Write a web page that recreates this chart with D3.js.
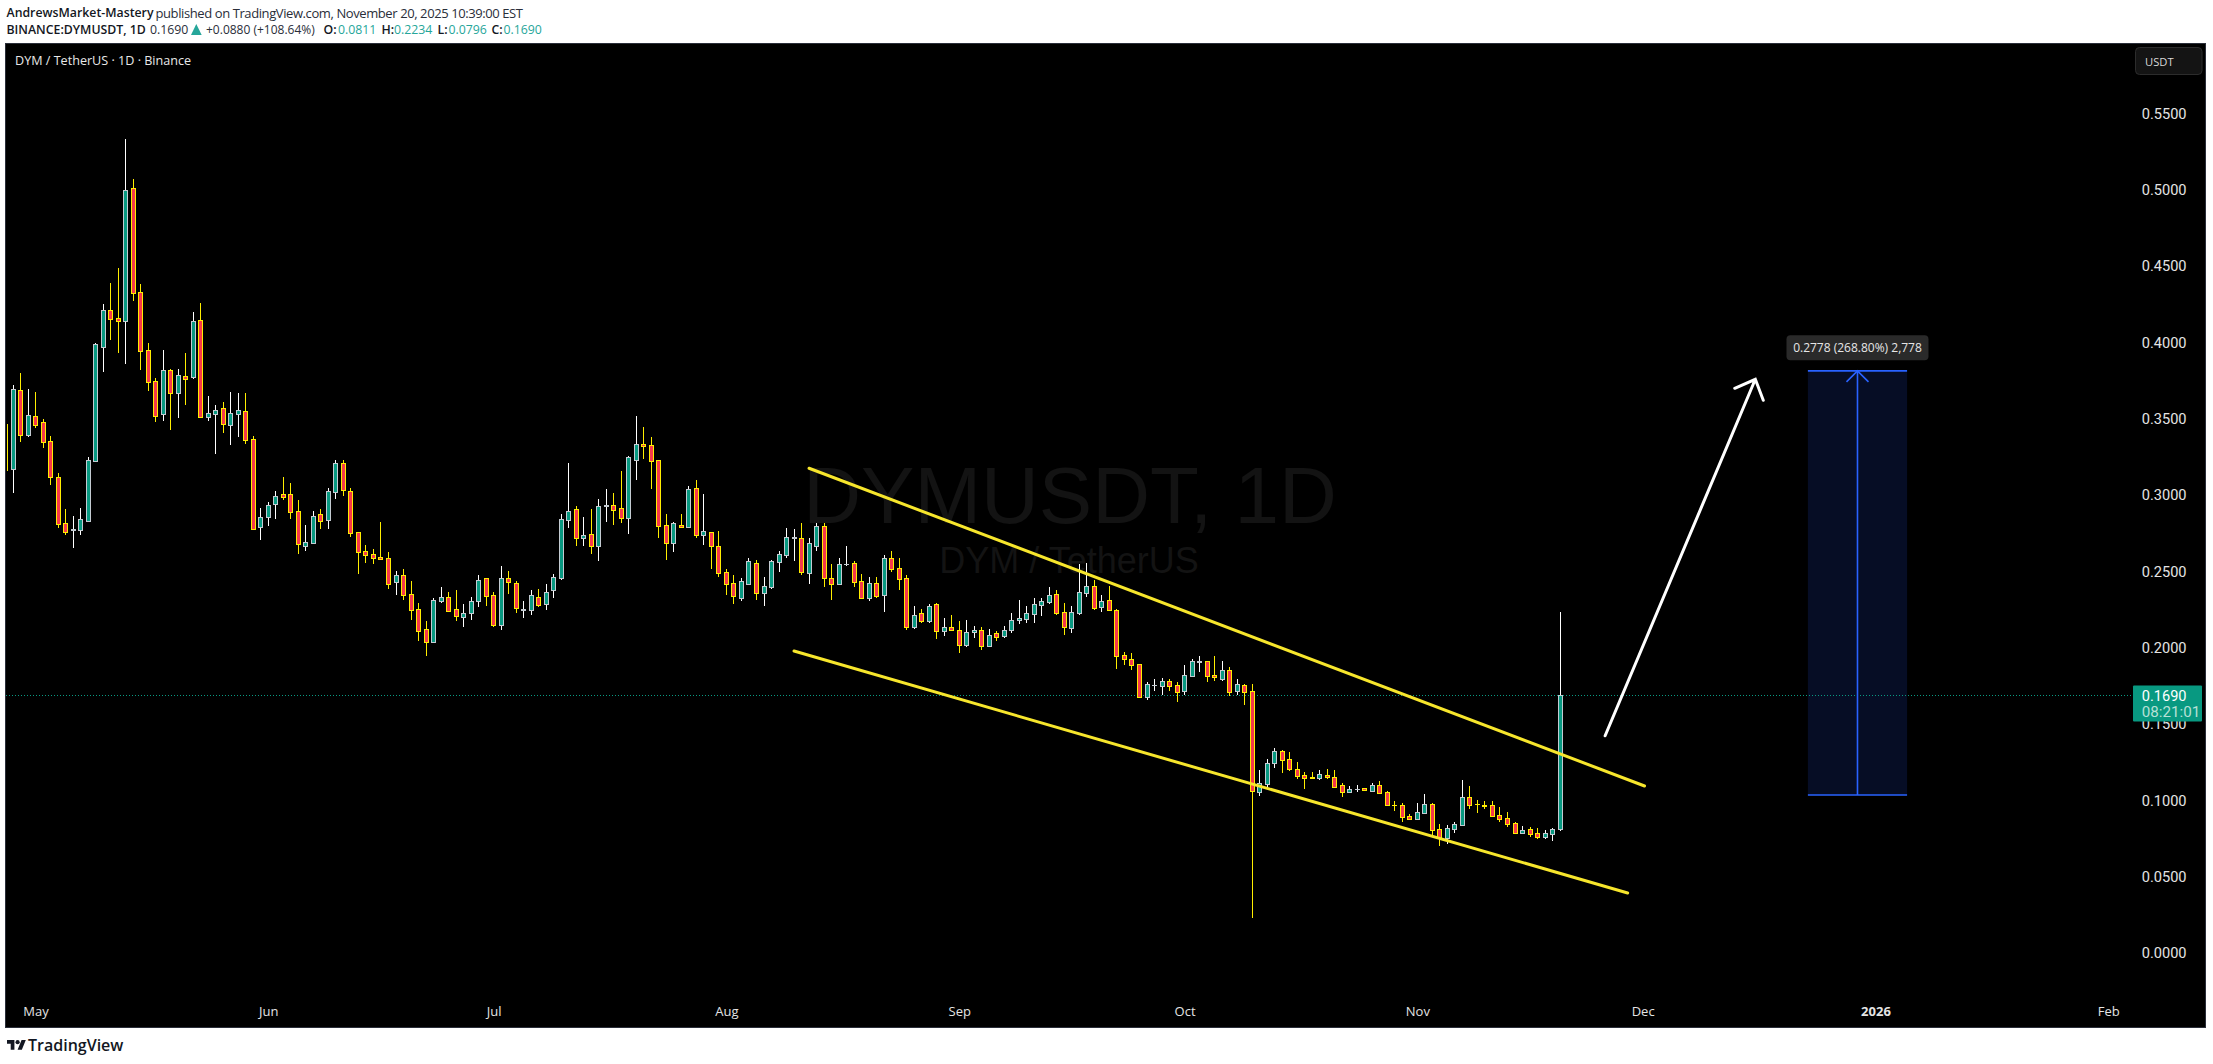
<!DOCTYPE html>
<html>
<head>
<meta charset="utf-8">
<script src="https://cdn.jsdelivr.net/npm/d3@7"></script>
<style>
html, body { margin: 0; padding: 0; background: #fff; }
svg { display: block; }
text { font-family: "Open Sans", sans-serif; }
</style>
</head>
<body>
<svg id="wrapper" width="2213" height="1064"></svg>
<script>
// daily candles, first one is 2025-04-27
const firstDay = "2025-04-27T00:00:00Z";
const opens = [
	.3463, .3170, .3684, .3393, .3513, .3474, .3350, .3114, .2813, .2769,
	.2771, .2830, .3223, .3969, .4208, .4155, .4140, .5007, .4326, .3946,
	.3743, .3530, .3815, .3668, .3775, .3773, .4142, .3511, .3530, .3566,
	.3458, .3530, .3546, .3363, .2790, .2856, .2941, .3003, .3003, .2891,
	.2666, .2686, .2871, .2836, .3020, .3206, .3022, .2754, .2629, .2610,
	.2590, .2583, .2430, .2472, .2348, .2249, .2118, .2037, .2306, .2328,
	.2249, .2201, .2227, .2306, .2452, .2341, .2148, .2452, .2420, .2246,
	.2247, .2328, .2286, .2374, .2456, .2836, .2904, .2718, .2740, .2666,
	.2926, .2930, .2911, .2849, .3229, .3330, .3323, .3225, .2799, .2686,
	.2799, .2788, .3042, .2738, .2754, .2662, .2492, .2420, .2325, .2417,
	.2551, .2358, .2397, .2561, .2607, .2716, .2714, .2489, .2666, .2793,
	.2452, .2417, .2543, .2551, .2433, .2325, .2420, .2345, .2583, .2518,
	.2452, .2135, .2223, .2175, .2282, .2109, .2131, .2112, .2017, .2099,
	.2112, .2007, .2092, .2076, .2112, .2177, .2188, .2220, .2279, .2299,
	.2348, .2230, .2129, .2227, .2358, .2400, .2266, .2308, .2243, .1948,
	.1922, .1889, .1677, .1751, .1749, .1778, .1751, .1716, .1814, .1904,
	.1909, .1817, .1795, .1850, .1716, .1751, .1712, .1055, .1107, .1245,
	.1319, .1267, .1201, .1162, .1148, .1146, .1162, .1149, .1096, .1055,
	.1070, .1077, .1061, .1096, .1051, .0970, .0965, .0893, .0878, .0917,
	.0972, .0808, .0753, .0812, .0838, .1018, .0977, .0969, .0965, .0900,
	.0880, .0848, .0786, .0808, .0782, .0760, .0779, .0811
];
const highs = [
	.3463, .3718, .3797, .3690, .3673, .3494, .3382, .3140, .2906, .2858,
	.2913, .3245, .3994, .4249, .4385, .4483, .5328, .5066, .4378, .3992,
	.3762, .3948, .3823, .3823, .3926, .4195, .4254, .3646, .3585, .3605,
	.3673, .3664, .3664, .3382, .2913, .2950, .3024, .3116, .3075, .2965,
	.2801, .2891, .2906, .3044, .3227, .3227, .3044, .2754, .2670, .2644,
	.2821, .2625, .2498, .2513, .2435, .2289, .2173, .2321, .2395, .2363,
	.2376, .2284, .2330, .2474, .2452, .2363, .2531, .2498, .2433, .2304,
	.2374, .2380, .2413, .2479, .2872, .3206, .2924, .2854, .2904, .2972,
	.3037, .3011, .3155, .3251, .3515, .3443, .3378, .3225, .2872, .2819,
	.2872, .3055, .3094, .3004, .2754, .2760, .2511, .2472, .2452, .2583,
	.2570, .2459, .2570, .2629, .2780, .2773, .2813, .2714, .2813, .2813,
	.2546, .2583, .2664, .2564, .2479, .2459, .2459, .2603, .2629, .2583,
	.2472, .2271, .2249, .2282, .2291, .2190, .2210, .2171, .2179, .2138,
	.2133, .2118, .2107, .2138, .2225, .2310, .2271, .2323, .2323, .2395,
	.2376, .2291, .2271, .2546, .2553, .2441, .2343, .2402, .2249, .1968,
	.1961, .1889, .1771, .1791, .1797, .1791, .1771, .1884, .1922, .1941,
	.1909, .1941, .1911, .1871, .1791, .1758, .1758, .1195, .1269, .1339,
	.1326, .1313, .1247, .1182, .1182, .1195, .1203, .1195, .1110, .1090,
	.1096, .1077, .1110, .1123, .1057, .0992, .0979, .0907, .0979, .1038,
	.0979, .0843, .0834, .0854, .1129, .1090, .0998, .0992, .0992, .0952,
	.0920, .0854, .0828, .0821, .0815, .0802, .0815, .2234
];
const lows = [
	.3157, .3013, .3347, .3380, .3439, .3308, .3065, .2784, .2738, .2653,
	.2738, .2828, .3216, .3804, .4013, .3930, .3856, .4271, .3817, .3681,
	.3476, .3485, .3424, .3502, .3589, .3760, .3500, .3481, .3267, .3406,
	.3325, .3376, .3332, .2771, .2703, .2795, .2841, .2965, .2841, .2613,
	.2633, .2686, .2775, .2775, .2972, .2991, .2725, .2480, .2553, .2546,
	.2572, .2382, .2343, .2310, .2179, .2042, .1943, .2037, .2291, .2232,
	.2173, .2133, .2179, .2264, .2271, .2133, .2114, .2349, .2225, .2192,
	.2212, .2264, .2245, .2323, .2443, .2782, .2664, .2664, .2611, .2566,
	.2821, .2801, .2815, .2742, .3096, .3234, .3037, .2716, .2572, .2625,
	.2782, .2782, .2716, .2670, .2513, .2463, .2343, .2284, .2304, .2417,
	.2312, .2271, .2382, .2494, .2585, .2566, .2474, .2415, .2631, .2397,
	.2310, .2417, .2533, .2395, .2325, .2304, .2323, .2232, .2494, .2376,
	.2114, .2122, .2160, .2160, .2055, .2074, .2116, .1963, .2002, .2061,
	.1985, .2002, .2042, .2061, .2094, .2153, .2160, .2160, .2205, .2286,
	.2212, .2081, .2094, .2212, .2330, .2245, .2232, .2245, .1858, .1884,
	.1852, .1670, .1657, .1714, .1688, .1714, .1642, .1688, .1814, .1839,
	.1773, .1780, .1780, .1681, .1688, .1622, .0229, .1028, .1079, .1212,
	.1179, .1192, .1138, .1072, .1140, .1131, .1140, .1087, .1022, .1055,
	.1055, .1068, .1055, .1048, .0963, .0930, .0858, .0878, .0878, .0917,
	.0764, .0699, .0712, .0786, .0838, .0943, .0917, .0943, .0897, .0858,
	.0825, .0779, .0779, .0758, .0745, .0745, .0732, .0796
];
const closes = [
	.3463, .3690, .3393, .3520, .3458, .3347, .3118, .2810, .2758, .2775,
	.2839, .3225, .3985, .4208, .4153, .4140, .4994, .4323, .3943, .3736,
	.3517, .3815, .3668, .3782, .3760, .4136, .3511, .3533, .3553, .3461,
	.3533, .3553, .3360, .2777, .2852, .2930, .2989, .2987, .2889, .2679,
	.2688, .2858, .2830, .3022, .3206, .3033, .2751, .2627, .2607, .2587,
	.2581, .2417, .2472, .2345, .2247, .2109, .2037, .2308, .2328, .2240,
	.2207, .2223, .2302, .2439, .2338, .2148, .2452, .2430, .2260, .2253,
	.2341, .2279, .2361, .2459, .2839, .2891, .2718, .2734, .2666, .2924,
	.2932, .2902, .2849, .3245, .3330, .3321, .3223, .2797, .2686, .2813,
	.2790, .3035, .2738, .2760, .2662, .2489, .2417, .2338, .2433, .2564,
	.2358, .2400, .2564, .2610, .2721, .2723, .2492, .2682, .2793, .2456,
	.2417, .2544, .2549, .2430, .2325, .2420, .2338, .2583, .2515, .2450,
	.2135, .2210, .2175, .2269, .2109, .2131, .2116, .2017, .2099, .2112,
	.2007, .2079, .2070, .2112, .2177, .2192, .2223, .2282, .2302, .2341,
	.2227, .2135, .2230, .2361, .2400, .2260, .2302, .2247, .1945, .1926,
	.1886, .1677, .1758, .1756, .1778, .1749, .1710, .1817, .1909, .1911,
	.1814, .1808, .1850, .1710, .1758, .1710, .1057, .1110, .1241, .1319,
	.1264, .1205, .1159, .1146, .1144, .1169, .1153, .1087, .1055, .1070,
	.1075, .1068, .1096, .1048, .0969, .0965, .0891, .0878, .0920, .0972,
	.0806, .0753, .0815, .0841, .1018, .0969, .0971, .0964, .0897, .0878,
	.0845, .0786, .0802, .0779, .0760, .0782, .0808, .1690
];

const priceTicks = [0, .05, .1, .15, .2, .25, .3, .35, .4, .45, .5, .55];
const monthDates = ["2025-05-01", "2025-06-01", "2025-07-01", "2025-08-01", "2025-09-01", "2025-10-01", "2025-11-01", "2025-12-01", "2026-01-01", "2026-02-01"];
const monthLabels = ["May", "Jun", "Jul", "Aug", "Sep", "Oct", "Nov", "Dec", "2026", "Feb"];

const lastPrice = .169;
// drawings: [date, price] end points
const upperChannel = [["2025-08-12", .3173], ["2025-12-01T06:00:00Z", .1092]];
const lowerChannel = [["2025-08-10", .1976], ["2025-11-29", .0391]];
const forecastArrow = [["2025-11-26", .1421], ["2025-12-16", .3756]];
const measureDates = ["2025-12-23", "2026-01-05T05:00:00Z"];
const measurePrices = [.1033, .3811];

const teal = "#089981";
const candleColors = {
	up: { body: "#089981", border: "#c4cbd2", wick: "#ffffff" },
	down: { body: "#f7394a", border: "#ffee00", wick: "#ffee00" },
};

let svg = d3.select("#wrapper");

let parseDay = function (s) {
	return new Date(s.length > 10 ? s : s + "T00:00:00Z");
};

let x = d3
	.scaleUtc()
	.domain([parseDay("2025-04-28"), parseDay("2025-11-20")])
	.range([13, 1560.06]);
let y = d3.scaleLinear().domain([0, 0.55]).range([952.7, 113]);

let candles = opens.map((o, i) => ({
	date: d3.utcDay.offset(new Date(firstDay), i),
	open: o,
	high: highs[i],
	low: lows[i],
	close: closes[i],
}));
let style = (d) => (d.close > d.open ? candleColors.up : candleColors.down);
let candleX = (d) => Math.max(7, Math.floor(x(d.date)));
let bodyTop = (d) => Math.round(y(Math.max(d.open, d.close)));
let bodyBottom = (d) => Math.round(y(Math.min(d.open, d.close)));

// chart panel
svg
	.append("rect")
	.attr("x", 5.5)
	.attr("y", 43.5)
	.attr("width", 2200)
	.attr("height", 984)
	.attr("fill", "#000")
	.attr("stroke", "#2a2e39");

// header
let headerText = function (px, py, text, color, weight, size) {
	return svg
		.append("text")
		.attr("x", px)
		.attr("y", py)
		.attr("dominant-baseline", "central")
		.attr("font-size", size || 12.3)
		.attr("font-weight", weight || 400)
		.attr("fill", color)
		.text(text);
};
const ink = "#2a2e39";
headerText(6.5, 12.7, "AndrewsMarket-Mastery", "#131722", 600);
headerText(155.5, 12.7, "published on TradingView.com, November 20, 2025 10:39:00 EST", ink, 400, 13)
	.attr("textLength", 367.5)
	.attr("lengthAdjust", "spacing");
headerText(6.5, 29.7, "BINANCE:DYMUSDT, 1D", "#131722", 600);
headerText(150, 29.7, "0.1690", ink);
svg
	.append("path")
	.attr("d", "M191 35L196.3 24L201.7 35Z")
	.attr("fill", "#26a69a");
headerText(206, 29.7, "+0.0880 (+108.64%)", ink, 400, 12);
headerText(323.5, 29.7, "O:", "#131722", 600);
headerText(338, 29.7, "0.0811", "#26a69a");
headerText(381.5, 29.7, "H:", "#131722", 600);
headerText(394, 29.7, "0.2234", "#26a69a");
headerText(437.5, 29.7, "L:", "#131722", 600);
headerText(448.5, 29.7, "0.0796", "#26a69a");
headerText(491.5, 29.7, "C:", "#131722", 600);
headerText(503.5, 29.7, "0.1690", "#26a69a");

svg
	.append("text")
	.attr("x", 15)
	.attr("y", 60)
	.attr("dominant-baseline", "central")
	.attr("font-size", 12.6)
	.attr("fill", "#e8e8e8")
	.text("DYM / TetherUS · 1D · Binance");

// watermark
svg
	.append("text")
	.attr("x", 1070)
	.attr("y", 523)
	.attr("text-anchor", "middle")
	.attr("font-size", 80)
	.style("font-family", "'Liberation Sans', sans-serif")
	.attr("fill", "#131313")
	.text("DYMUSDT, 1D");
svg
	.append("text")
	.attr("x", 1069)
	.attr("y", 573)
	.attr("text-anchor", "middle")
	.attr("font-size", 36)
	.style("font-family", "'Liberation Sans', sans-serif")
	.attr("fill", "#131313")
	.text("DYM / TetherUS");

// measure box goes under the price line
let mx = measureDates.map((d) => x(parseDay(d)));
let my = measurePrices.map((p) => y(p));
let measure = svg.append("g");
measure
	.append("rect")
	.attr("x", mx[0])
	.attr("y", my[1])
	.attr("width", mx[1] - mx[0])
	.attr("height", my[0] - my[1])
	.attr("fill", "#060d25");

// last price dotted line
svg
	.append("line")
	.attr("x1", 6)
	.attr("x2", 2133)
	.attr("y1", Math.round(y(lastPrice)) + 0.5)
	.attr("y2", Math.round(y(lastPrice)) + 0.5)
	.attr("stroke", teal)
	.attr("stroke-dasharray", "1 2");

const measureBlue = "#2962ff";
measure = svg.append("g").attr("stroke", measureBlue).attr("fill", "none").attr("stroke-width", 1.6);
measure.append("line").attr("x1", mx[0]).attr("x2", mx[1]).attr("y1", my[0]).attr("y2", my[0]);
measure.append("line").attr("x1", mx[0]).attr("x2", mx[1]).attr("y1", my[1]).attr("y2", my[1]);
let midX = (mx[0] + mx[1]) / 2;
measure.append("line").attr("x1", midX).attr("x2", midX).attr("y1", my[0]).attr("y2", my[1]);
measure
	.append("path")
	.attr("d", `M${midX - 11} ${my[1] + 11}L${midX} ${my[1]}L${midX + 11} ${my[1] + 11}`);

svg
	.append("rect")
	.attr("x", midX - 71)
	.attr("y", my[1] - 35.5)
	.attr("width", 142)
	.attr("height", 25)
	.attr("rx", 4)
	.attr("fill", "#2a2a2a");
svg
	.append("text")
	.attr("x", midX)
	.attr("y", my[1] - 23)
	.attr("text-anchor", "middle")
	.attr("dominant-baseline", "central")
	.attr("font-size", 12)
	.attr("fill", "#e6e6e6")
	.text("0.2778 (268.80%) 2,778");

// candles
let candleLayer = svg.append("g").attr("shape-rendering", "crispEdges");
candleLayer
	.selectAll("line")
	.data(candles)
	.enter()
	.append("line")
	.attr("x1", (d) => candleX(d) + 0.5)
	.attr("x2", (d) => candleX(d) + 0.5)
	.attr("y1", (d) => y(d.high))
	.attr("y2", (d) => y(d.low))
	.attr("stroke", (d) => style(d).wick)
	.attr("stroke-width", 1);

let bodies = candles.filter((d) => d.open !== d.close);
candleLayer
	.selectAll("rect.border")
	.data(bodies)
	.enter()
	.append("rect")
	.attr("class", "border")
	.attr("x", (d) => candleX(d) - 2)
	.attr("y", bodyTop)
	.attr("width", 5)
	.attr("height", (d) => Math.max(1, bodyBottom(d) - bodyTop(d) + 1))
	.attr("fill", (d) => style(d).border);
candleLayer
	.selectAll("rect.fill")
	.data(bodies.filter((d) => bodyBottom(d) - bodyTop(d) > 1))
	.enter()
	.append("rect")
	.attr("class", "fill")
	.attr("x", (d) => candleX(d) - 1)
	.attr("y", (d) => bodyTop(d) + 1)
	.attr("width", 3)
	.attr("height", (d) => bodyBottom(d) - bodyTop(d) - 1)
	.attr("fill", (d) => style(d).body);

// channel lines
let channelLine = d3
	.line()
	.x((d) => x(parseDay(d[0])))
	.y((d) => y(d[1]));
[upperChannel, lowerChannel].forEach((points) => {
	svg
		.append("path")
		.attr("d", channelLine(points))
		.attr("fill", "none")
		.attr("stroke", "#f7e62c")
		.attr("stroke-width", 3)
		.attr("stroke-linecap", "round");
});

// forecast arrow
let tail = [x(parseDay(forecastArrow[0][0])), y(forecastArrow[0][1])];
let tip = [x(parseDay(forecastArrow[1][0])), y(forecastArrow[1][1])];
let back = Math.atan2(tail[1] - tip[1], tail[0] - tip[0]);
let wing = (a) => [tip[0] + 22.5 * Math.cos(back + a), tip[1] + 22.5 * Math.sin(back + a)];
let wingA = wing(0.76);
let wingB = wing(-0.76);
svg
	.append("path")
	.attr("d", `M${tail}L${tip}M${wingA}L${tip}L${wingB}`)
	.attr("fill", "none")
	.attr("stroke", "#fff")
	.attr("stroke-width", 3)
	.attr("stroke-linecap", "round");

// axes
let yAxis = svg
	.append("g")
	.attr("transform", "translate(2141.7,0)")
	.call(d3.axisRight(y).tickValues(priceTicks).tickFormat(d3.format(".4f")).tickSize(0));
yAxis.select(".domain").remove();
yAxis
	.selectAll("text")
	.attr("x", 0)
	.attr("dy", null)
	.attr("dominant-baseline", "central")
	.style("font-family", "Roboto, sans-serif")
	.attr("font-size", 14.6)
	.attr("fill", "#e4e4e4");

let xAxis = svg
	.append("g")
	.attr("transform", "translate(0,1010.7)")
	.call(
		d3
			.axisBottom(x)
			.tickValues(monthDates.map(parseDay))
			.tickFormat((d, i) => monthLabels[i])
			.tickSize(0)
	);
xAxis.select(".domain").remove();
xAxis
	.selectAll("text")
	.attr("y", 0)
	.attr("dy", null)
	.attr("dominant-baseline", "central")
	.attr("font-size", 13)
	.attr("font-weight", (d, i) => (monthLabels[i] === "2026" ? 700 : 400))
	.attr("fill", "#e4e4e4");

// price tag on the axis
svg
	.append("rect")
	.attr("x", 2133)
	.attr("y", 685.5)
	.attr("width", 69)
	.attr("height", 36)
	.attr("rx", 1)
	.attr("fill", teal);
svg
	.append("text")
	.attr("x", 2141.7)
	.attr("y", y(lastPrice) + 1)
	.attr("dominant-baseline", "central")
	.style("font-family", "Roboto, sans-serif")
	.attr("font-size", 14.6)
	.attr("fill", "#fff")
	.text(d3.format(".4f")(lastPrice));
svg
	.append("text")
	.attr("x", 2141.7)
	.attr("y", 712.3)
	.attr("dominant-baseline", "central")
	.style("font-family", "Roboto, sans-serif")
	.attr("font-size", 15.2)
	.attr("fill", "#b6e0d6")
	.text("08:21:01");

// currency button
svg
	.append("rect")
	.attr("x", 2135.5)
	.attr("y", 47.5)
	.attr("width", 66.5)
	.attr("height", 27)
	.attr("rx", 4)
	.attr("fill", "#141414")
	.attr("stroke", "#2c2c2c");
svg
	.append("text")
	.attr("x", 2145)
	.attr("y", 61)
	.attr("dominant-baseline", "central")
	.attr("font-size", 11.2)
	.attr("fill", "#d8d8d8")
	.text("USDT");

// footer logo
svg
	.append("g")
	.attr("transform", "translate(7,1038) scale(0.53)")
	.call((g) => {
		g.append("path").attr("d", "M14 22H7V11H0V4h14v18zM28 22h-8l7.5-18h8L28 22z").attr("fill", "#131722");
		g.append("circle").attr("cx", 20).attr("cy", 8).attr("r", 4).attr("fill", "#131722");
	});
svg
	.append("text")
	.attr("x", 28)
	.attr("y", 1045)
	.attr("dominant-baseline", "central")
	.attr("font-size", 16)
	.attr("font-weight", 600)
	.attr("fill", "#131722")
	.text("TradingView");
</script>
</body>
</html>
